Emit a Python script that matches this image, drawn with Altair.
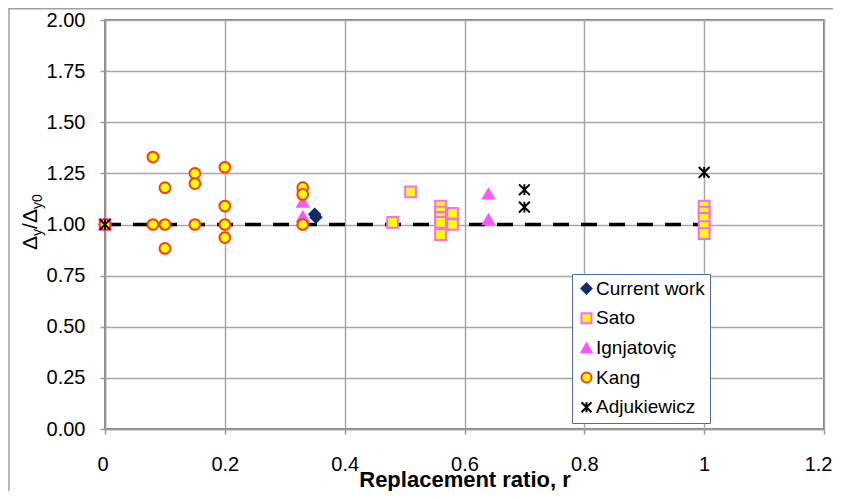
import altair as alt
import pandas as pd

series_order = ["Current work", "Sato", "Ignjatoviç", "Kang", "Adjukiewicz"]

current_r = [0.0, 0.35, 0.352]
current_v = [1.00, 1.05, 1.035]

sato_r = [0.0, 0.48, 0.51, 0.56, 0.56, 0.56, 0.56, 0.56, 0.58, 0.58, 1.0, 1.0, 1.0, 1.0, 1.0]
sato_v = [1.00, 1.01, 1.16, 1.09, 1.06, 1.035, 1.01, 0.95, 1.055, 1.00, 1.09, 1.06, 1.03, 0.99, 0.955]

ign_r = [0.0, 0.33, 0.33, 0.64, 0.64]
ign_v = [1.00, 1.11, 1.04, 1.15, 1.025]

kang_r = [0.0, 0.08, 0.08, 0.10, 0.10, 0.10, 0.15, 0.15, 0.15, 0.20, 0.20, 0.20, 0.20, 0.33, 0.33, 0.33]
kang_v = [1.00, 1.33, 1.00, 1.18, 1.00, 0.883, 1.25, 1.20, 1.00, 1.28, 1.09, 1.00, 0.936, 1.18, 1.147, 1.00]

adj_r = [0.0, 0.70, 0.70, 1.0]
adj_v = [1.00, 1.17, 1.085, 1.255]

ref_line = [{"x": 0.0, "x2": 1.0, "y": 1.0}]

x_ticks = [0, 0.2, 0.4, 0.6, 0.8, 1.0, 1.2]
y_ticks = [0, 0.25, 0.5, 0.75, 1.0, 1.25, 1.5, 1.75, 2.0]

rows = []
for name, rs, vs in [("Current work", current_r, current_v), ("Sato", sato_r, sato_v),
                     ("Ignjatoviç", ign_r, ign_v), ("Kang", kang_r, kang_v),
                     ("Adjukiewicz", adj_r, adj_v)]:
    for r, v in zip(rs, vs):
        rows.append({"series": name, "r": r, "ratio": v})
df = pd.DataFrame(rows)

FONT = "Liberation Sans"

xscale = alt.Scale(domain=[0, 1.2], nice=False, zero=False)
yscale = alt.Scale(domain=[0, 2], nice=False)

shapes = ["diamond", "square", "triangle-up", "circle", "M-1,-1L1,1M-1,1L1,-1M0,-1L0,1"]
fills = ["#0b2d6b", "#ffff00", "#ff55ff", "#ffff00", "#ffffff00"]
strokes = ["#0b2d6b", "#ff66ff", "#ff55ff", "#ff3a00", "#000000"]

leg = alt.Legend(title=None, orient="none", legendX=467, legendY=254)

points = alt.Chart(df).mark_point(filled=False, strokeWidth=2, opacity=1, size=115).encode(
    x=alt.X("r:Q", scale=xscale,
            axis=alt.Axis(values=x_ticks, format="~g", title="Replacement ratio, r",
                          labelFlush=True, labelFlushOffset=8)),
    y=alt.Y("ratio:Q", scale=yscale,
            axis=alt.Axis(values=y_ticks, format=".2f", title=None)),
    shape=alt.Shape("series:N", scale=alt.Scale(domain=series_order, range=shapes), legend=leg),
    fill=alt.Fill("series:N", scale=alt.Scale(domain=series_order, range=fills), legend=leg),
    stroke=alt.Stroke("series:N", scale=alt.Scale(domain=series_order, range=strokes), legend=leg),
)

line = alt.Chart(alt.Data(values=ref_line)).mark_rule(
    color="black", strokeWidth=3.5, strokeDash=[16, 12]
).encode(x=alt.X("x:Q", scale=xscale), x2="x2:Q", y=alt.Y("y:Q", scale=yscale))

border_top = alt.Chart(alt.Data(values=[{}])).mark_rule(
    stroke="#a0a0a0", strokeWidth=1.5
).encode(x=alt.value(-96.5), x2=alt.value(800), y=alt.value(-11.3))
border_left = alt.Chart(alt.Data(values=[{}])).mark_rule(
    stroke="#a0a0a0", strokeWidth=1.5
).encode(x=alt.value(-96), y=alt.value(-12), y2=alt.value(700))

def title_piece(txt, xv, yv, size):
    return alt.Chart(alt.Data(values=[{}])).mark_text(
        text=txt, angle=270, align="left", baseline="alphabetic",
        font=FONT, fontSize=size, color="black"
    ).encode(x=alt.value(xv), y=alt.value(yv))

tmain = -68
tsub = -63.5
ytitle = [
    title_piece("Δ", tmain, 230, 21),
    title_piece("y", tsub, 216, 14),
    title_piece("/", tmain, 209, 21),
    title_piece("Δ", tmain, 203, 21),
    title_piece("y", tsub, 189, 14),
    title_piece("0", tsub, 182, 14),
]

chart = alt.layer(border_top, border_left, line, points, *ytitle).properties(
    width=719, height=409,
    padding={"left": 97, "top": 12, "right": 9, "bottom": 62},
    autosize=alt.AutoSizeParams(type="none"),
    background="white",
).configure_view(
    stroke="#555555", strokeWidth=1.5
).configure_axis(
    labelFont=FONT, labelFontSize=20, labelColor="black",
    titleFont=FONT, titleColor="black",
    grid=True, gridColor="#a6a6a6", gridWidth=1.5,
    domainColor="#999999", domainWidth=1.5,
    tickColor="#999999", tickWidth=1.5, tickSize=5,
).configure_axisX(
    labelPadding=20, titleFontSize=22, titleFontWeight="bold",
    titleBaseline="alphabetic", titleY=57,
).configure_axisY(
    labelPadding=15,
).configure_legend(
    padding=5, rowPadding=9.7, labelFont=FONT, labelFontSize=19, labelColor="black",
    labelOffset=0, symbolSize=100, symbolStrokeWidth=2,
    strokeColor="#4a6fa5", fillColor="white",
)

chart.save("out.html", embed_options={"renderer": "svg", "actions": False})
